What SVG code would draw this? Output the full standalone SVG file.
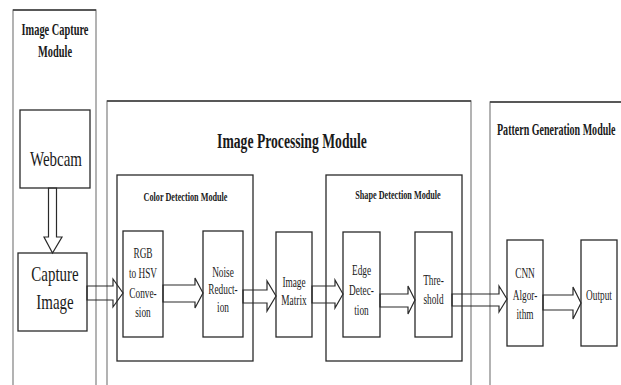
<svg xmlns="http://www.w3.org/2000/svg" width="621" height="385" viewBox="0 0 621 385">
<style>
.mod{fill:none;stroke:#8a8a8a;stroke-width:1.3}
.modtop{stroke:#3a3a3a;stroke-width:1.6}
.box{fill:#fff;stroke:#2a2a2a;stroke-width:1.3}
.arr{fill:none;stroke:#2a2a2a;stroke-width:1.2;stroke-linejoin:miter}
text{font-family:'Liberation Serif','Times New Roman',serif;fill:#1a1a1a;text-anchor:middle}
.t{font-weight:bold}
.s{font-size:15px}
.b{font-size:22px}
</style>
<rect width="621" height="385" fill="#fff"/>
<g font-family="'Liberation Serif', serif">
<g id="image-capture-module">
<rect class="mod" x="13" y="10" width="83" height="390"/>
<line class="modtop" x1="13" y1="10" x2="96" y2="10"/>
<text class="t" font-size="17" transform="translate(55,35) scale(0.61,1)">Image Capture</text>
<text class="t" font-size="17" transform="translate(55,57) scale(0.61,1)">Module</text>
</g>
<g id="image-processing-module">
<rect class="mod" x="107" y="101" width="364" height="300"/>
<line class="modtop" x1="107" y1="101" x2="471" y2="101"/>
<text class="t" font-size="21" transform="translate(292,148) scale(0.65,1)">Image Processing Module</text>
</g>
<g id="pattern-generation-module">
<rect class="mod" x="490" y="102" width="140" height="300"/>
<line class="modtop" x1="490" y1="102" x2="630" y2="102"/>
<text class="t" font-size="17" style="text-anchor:start" transform="translate(497,135) scale(0.59,1)">Pattern Generation Module</text>
</g>
<g id="color-detection-module">
<rect class="box" x="117" y="175" width="136" height="186"/>
<text class="t" font-size="13" transform="translate(185.5,201) scale(0.63,1)">Color Detection Module</text>
</g>
<g id="shape-detection-module">
<rect class="box" x="326" y="175" width="136" height="186"/>
<text class="t" font-size="13" transform="translate(398,199) scale(0.63,1)">Shape Detection Module</text>
</g>
<g id="webcam">
<rect class="box" x="20" y="110" width="70" height="78"/>
<text class="b" transform="translate(56,166) scale(0.68,1)">Webcam</text>
</g>
<g id="capture-image">
<rect class="box" x="18" y="253" width="69" height="78"/>
<text class="b" transform="translate(55,281) scale(0.68,1)">Capture</text>
<text class="b" transform="translate(55,309) scale(0.68,1)">Image</text>
</g>
<g id="rgb-to-hsv">
<rect class="box" x="123" y="231" width="40" height="106"/>
<text class="s" transform="translate(143,258) scale(0.62,1)">RGB</text>
<text class="s" transform="translate(143,278) scale(0.62,1)">to HSV</text>
<text class="s" transform="translate(143,298) scale(0.62,1)">Conve-</text>
<text class="s" transform="translate(143,317) scale(0.62,1)">sion</text>
</g>
<g id="noise-reduction">
<rect class="box" x="203" y="231" width="40" height="106"/>
<text class="s" transform="translate(223,277) scale(0.62,1)">Noise</text>
<text class="s" transform="translate(223,294) scale(0.62,1)">Reduct-</text>
<text class="s" transform="translate(223,312) scale(0.62,1)">ion</text>
</g>
<g id="image-matrix">
<rect class="box" x="276" y="232" width="36" height="105"/>
<text class="s" transform="translate(294,287) scale(0.62,1)">Image</text>
<text class="s" transform="translate(294,305) scale(0.62,1)">Matrix</text>
</g>
<g id="edge-detection">
<rect class="box" x="343" y="232" width="37" height="105"/>
<text class="s" transform="translate(361.5,275) scale(0.62,1)">Edge</text>
<text class="s" transform="translate(361.5,295) scale(0.62,1)">Detec-</text>
<text class="s" transform="translate(361.5,315) scale(0.62,1)">tion</text>
</g>
<g id="threshold">
<rect class="box" x="415" y="232" width="37" height="105"/>
<text class="s" transform="translate(433.5,285) scale(0.62,1)">Thre-</text>
<text class="s" transform="translate(433.5,304) scale(0.62,1)">shold</text>
</g>
<g id="cnn-algorithm">
<rect class="box" x="507" y="240" width="36" height="106"/>
<text class="s" transform="translate(525,278) scale(0.62,1)">CNN</text>
<text class="s" transform="translate(525,300) scale(0.62,1)">Algor-</text>
<text class="s" transform="translate(525,319) scale(0.62,1)">ithm</text>
</g>
<g id="output">
<rect class="box" x="581" y="240" width="36" height="106"/>
<text class="s" transform="translate(599,300) scale(0.62,1)">Output</text>
</g>
</g>
<g id="connectors">
<polygon class="arr" points="48.5,188 56.5,188 56.5,237 62,237 52.5,253 44,237 48.5,237"/>
<polygon class="arr" points="87,286 113,286 113,279 123,293 113,307 113,300 87,300"/>
<polygon class="arr" points="163,285 195,285 195,278 203,293 195,308 195,302 163,302"/>
<polygon class="arr" points="243,290 267,290 267,281 276,296 267,311 267,303 243,303"/>
<polygon class="arr" points="312,286 335,286 335,280 343,294 335,308 335,303 312,303"/>
<polygon class="arr" points="380,294 408,294 408,286 415,300 408,314 408,307 380,307"/>
<polygon class="arr" points="452,294 499,294 499,286 507,299 499,312 499,306 452,306"/>
<polygon class="arr" points="543,295 573,295 573,287 581,303 573,319 573,310 543,310"/>
</g>
</svg>
